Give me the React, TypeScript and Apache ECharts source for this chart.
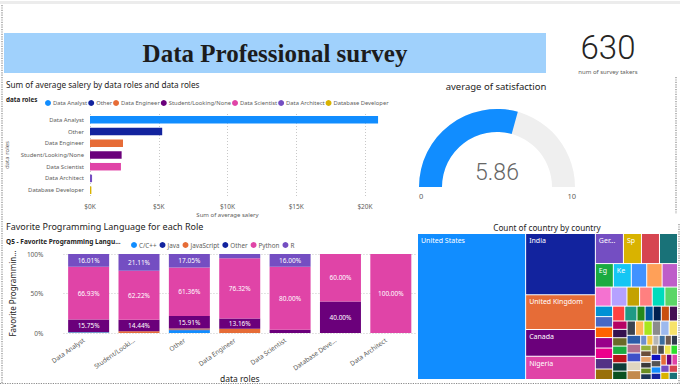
import React, { useEffect, useRef } from 'react';
import * as echarts from 'echarts';

// ---------- data ----------
const surveyCount = 630;
const satisfaction = 5.86;
const gaugeMin = 0;
const gaugeMax = 10;

const roleNames = ['Data Analyst', 'Other', 'Data Engineer', 'Student/Looking/None', 'Data Scientist', 'Data Architect', 'Database Developer'];
const avgSalary = [20950, 5250, 2400, 2300, 2250, 150, 100];

const langRoles = ['Data Analyst', 'Student/Looking/None', 'Other', 'Data Engineer', 'Data Scientist', 'Database Developer', 'Data Architect'];
const langRoleLabels = ['Data Analyst', 'Student/Looki...', 'Other', 'Data Engineer', 'Data Scientist', 'Database Deve...', 'Data Architect'];
const languages = ['C/C++', 'Java', 'JavaScript', 'Other', 'Python', 'R'];
const cppShare = [1.05, 0, 3.41, 0, 0, 0, 0];
const javaShare = [0, 0, 1.14, 0, 0, 0, 0];
const jsShare = [0.26, 2.23, 1.14, 5.26, 0, 0, 0];
const otherShare = [15.75, 14.44, 15.91, 13.16, 4.0, 40.0, 0];
const pythonShare = [66.93, 62.22, 61.36, 76.32, 80.0, 60.0, 100.0];
const rShare = [16.01, 21.11, 17.05, 5.26, 16.0, 0, 0];
const langShares = [cppShare, javaShare, jsShare, otherShare, pythonShare, rShare];

// countries, already ordered from most to fewest respondents
const countryNames = [
  'United States', 'India', 'United Kingdom', 'Canada', 'Nigeria',
  'Germany', 'Spain', 'France', 'Brazil',
  'Egypt', 'Kenya', 'Australia', 'Netherlands', 'South Africa',
  'Pakistan', 'Portugal', 'Mexico', 'Italy', 'Argentina', 'Philippines',
  'Indonesia', 'Colombia', 'Ireland', 'Poland', 'Turkey', 'Ghana', 'Singapore', 'Malaysia', 'Belgium',
  'Sweden', 'Switzerland', 'Chile', 'Peru', 'Japan', 'China', 'Vietnam', 'Bangladesh', 'Sri Lanka', 'Nepal',
  'Romania', 'Greece', 'Austria', 'Denmark', 'Norway', 'Finland', 'Israel', 'United Arab Emirates', 'Saudi Arabia',
  'Morocco', 'Ethiopia', 'Uganda', 'Tanzania',
  'Zimbabwe', 'Zambia', 'Cameroon', 'Tunisia', 'Algeria', 'Jordan', 'Lebanon', 'Qatar', 'Kuwait', 'Oman',
  'Iran', 'Iraq', 'Ukraine', 'Russia', 'Czech Republic', 'Hungary', 'Serbia', 'Croatia', 'Bulgaria', 'Estonia',
  'Latvia', 'Lithuania', 'New Zealand', 'South Korea', 'Thailand', 'Venezuela', 'Ecuador'
];
const countryCounts = [
  262, 71, 40, 31, 27,
  14, 9, 9, 9,
  7, 7, 6, 6, 6,
  5, 5, 4, 4, 4, 4,
  3, 3, 3, 3, 3, 3, 3, 3, 3,
  2, 2, 2, 2, 2, 2, 2, 2, 2, 2,
  2, 2, 2, 2, 2, 2, 2, 2, 2,
  2, 2, 2, 2,
  1, 1, 1, 1, 1, 1, 1, 1, 1, 1,
  1, 1, 1, 1, 1, 1, 1, 1, 1, 1,
  1, 1, 1, 1, 1, 1, 1
];
const labeledCountries = ['United States', 'India', 'United Kingdom', 'Canada', 'Nigeria', 'Germany', 'Spain', 'Egypt', 'Kenya'];

// ---------- styles ----------
const palette = [
  '#118DFF', '#12239E', '#E66C37', '#6B007B', '#E044A7', '#744EC2', '#D9B300', '#D64550', '#197278', '#1AAB40',
  '#15C6F4', '#4092FF', '#FFA058', '#BE5DC9', '#F472D0', '#B5A1FF', '#C4A200', '#FF8080', '#00DBBC', '#5BD667',
  '#0091D5', '#4668C5', '#FF6300', '#99008A', '#EC008C', '#533285', '#99700A', '#FF4141', '#1F9A85', '#25891C',
  '#0057A2', '#002050', '#C94F0F', '#450F54', '#B60064', '#34124F', '#6A6A28', '#1AAB40', '#BA141A', '#0C3D37',
  '#0B511F', '#3B4350', '#FFB55A', '#A8E61D', '#8C8C8C', '#9DB9EE', '#F7E36B', '#2A5CA8', '#B07090', '#3F51C8',
  '#E0D6C0', '#C38A4D', '#6F8FD0', '#F5C542', '#B5B5B5', '#3C6E9E', '#6E5A4E', '#2F3B4C', '#96B33B', '#6A4E3A',
  '#E6A36B', '#3B3B3B', '#6B8E23', '#1D3557', '#A48A5C', '#4B4B4B', '#F2E550', '#2DE02D', '#1010C0', '#555555'
];
const roleColors = ['#118DFF', '#12239E', '#E66C37', '#6B007B', '#E044A7', '#744EC2', '#D9B300'];
const langColors = ['#118DFF', '#12239E', '#E66C37', '#6B007B', '#E044A7', '#744EC2'];
const FONT = "'Segoe UI', 'Noto Sans', sans-serif";
const TITLE = '#252423';
const LABEL = '#605E5C';

export default function App() {
  const ref = useRef<HTMLDivElement>(null);

  useEffect(() => {
    if (!ref.current) return;
    const chart = echarts.init(ref.current, null, { renderer: 'svg' });

    const salarySeries = roleNames.map((r, i) => ({
      name: r,
      type: 'bar',
      xAxisIndex: 0,
      yAxisIndex: 0,
      stack: 'salary',
      barWidth: 7.5,
      clip: false,
      itemStyle: { color: roleColors[i] },
      data: roleNames.map((_, j) => (j === i ? avgSalary[i] : '-')),
    }));

    const langSeries = languages.map((l, i) => ({
      name: l,
      type: 'bar',
      xAxisIndex: 1,
      yAxisIndex: 1,
      stack: 'lang',
      barWidth: 41,
      itemStyle: { color: langColors[i] },
      label: {
        show: true,
        position: 'inside',
        color: '#fff',
        fontSize: 6.5,
        fontFamily: FONT,
        formatter: (p: any) => (p.value >= 10 ? Number(p.value).toFixed(2) + '%' : ''),
      },
      data: langShares[i],
    }));

    const treeData = countryNames.map((n, i) => ({
      name: n,
      value: countryCounts[i],
      itemStyle: { color: palette[i % palette.length] },
    }));

    const dotted = (x1: number, y1: number, x2: number, y2: number) => ({
      type: 'line',
      shape: { x1, y1, x2, y2 },
      style: { stroke: '#8a8a8a', lineWidth: 1.2, lineDash: [1.2, 1.2] },
      silent: true,
    });
    const txt = (text: string, x: number, y: number, font: string, fill: string, align = 'left') => ({
      type: 'text',
      x,
      y,
      silent: true,
      style: { text, font, fill, textAlign: align, verticalAlign: 'middle' },
    });

    const legendBase = {
      icon: 'circle',
      itemWidth: 6,
      itemHeight: 6,
      itemGap: 1,
      selectedMode: false,
      textStyle: { fontSize: 5.8, color: LABEL, fontFamily: FONT, padding: [0, 0, 0, -3] },
    };

    const option: any = {
      animation: false,
      backgroundColor: '#ffffff',
      textStyle: { fontFamily: FONT },
      graphic: [
        { type: 'rect', shape: { x: 0, y: 1, width: 680, height: 3 }, style: { fill: '#ececec' }, silent: true },
        dotted(2, 5, 2, 384),
        dotted(0, 383.5, 680, 383.5),
        dotted(676, 77, 676, 214),
        dotted(679, 224, 679, 384),
        { type: 'rect', shape: { x: 4, y: 33, width: 542, height: 40 }, style: { fill: '#A0D1FC' }, silent: true },
        txt('Data Professional survey', 275, 53, "bold 25px 'Liberation Serif', 'Times New Roman', serif", '#1c1c1c', 'center'),
        txt(String(surveyCount), 608, 47, "300 33px Roboto, 'Noto Sans', sans-serif", TITLE, 'center'),
        txt('num of survey takers', 608, 71.5, `6px ${FONT}`, LABEL, 'center'),
        txt('Sum of average salery by data roles and data roles', 6, 84, `8.2px ${FONT}`, TITLE),
        txt('data roles', 6, 99, `bold 6.3px ${FONT}`, TITLE),
        txt('average of satisfaction', 496, 86, `9.5px ${FONT}`, TITLE, 'center'),
        txt(String(gaugeMin), 419, 196, `7.5px ${FONT}`, LABEL),
        txt(String(gaugeMax), 576, 196, `7.5px ${FONT}`, LABEL, 'right'),
        txt('Favorite Programming Language for each Role', 6, 226, `9px ${FONT}`, TITLE),
        txt('Q5 - Favorite Programming Langu...', 6, 241, `bold 6.5px ${FONT}`, TITLE),
        txt('Count of country by country', 547, 227, `8.2px ${FONT}`, TITLE, 'center'),
      ],
      legend: [
        { ...legendBase, data: roleNames, left: 40, top: 95 },
        {
          ...legendBase,
          data: languages,
          left: 126,
          top: 237,
          itemGap: 3,
          textStyle: { ...legendBase.textStyle, fontSize: 6.3 },
        },
      ],
      grid: [
        { left: 90, top: 114, width: 275, height: 82 },
        { left: 52, top: 254, width: 364, height: 79 },
      ],
      xAxis: [
        {
          type: 'value',
          gridIndex: 0,
          min: 0,
          max: 20000,
          interval: 5000,
          name: 'Sum of average salery',
          nameLocation: 'middle',
          nameGap: 16,
          nameTextStyle: { fontSize: 6, color: LABEL },
          axisLine: { show: false },
          axisTick: { show: false },
          axisLabel: { fontSize: 6.5, color: LABEL, margin: 7, formatter: (v: number) => '$' + v / 1000 + 'K' },
          splitLine: { lineStyle: { type: [1, 2], color: '#C8C8C8' } },
        },
        {
          type: 'category',
          gridIndex: 1,
          data: langRoles,
          name: 'data roles',
          nameLocation: 'middle',
          nameGap: 38,
          nameTextStyle: { fontSize: 8.5, color: TITLE },
          axisLine: { show: false },
          axisTick: { show: false },
          axisLabel: {
            fontSize: 6.5,
            color: LABEL,
            rotate: 35,
            margin: 3,
            padding: [0, 6, 0, 0],
            interval: 0,
            formatter: (_v: string, i: number) => langRoleLabels[i],
          },
        },
      ],
      yAxis: [
        {
          type: 'category',
          gridIndex: 0,
          inverse: true,
          data: roleNames,
          name: 'data roles',
          nameLocation: 'middle',
          nameGap: 80,
          nameTextStyle: { fontSize: 6, color: LABEL },
          axisLine: { show: false },
          axisTick: { show: false },
          axisLabel: { fontSize: 5.9, color: LABEL, margin: 6 },
        },
        {
          type: 'value',
          gridIndex: 1,
          min: 0,
          max: 100,
          interval: 50,
          name: 'Favorite Programmin...',
          nameLocation: 'middle',
          nameGap: 39,
          nameTextStyle: { fontSize: 8, color: TITLE },
          axisLine: { show: false },
          axisTick: { show: false },
          axisLabel: { fontSize: 6.5, color: LABEL, margin: 20, formatter: '{value}%' },
          splitLine: { lineStyle: { type: [1, 2], color: '#C8C8C8' } },
        },
      ],
      series: [
        ...salarySeries,
        ...langSeries,
        {
          type: 'gauge',
          center: [497, 187],
          radius: 78,
          startAngle: 180,
          endAngle: 0,
          min: gaugeMin,
          max: gaugeMax,
          splitNumber: 1,
          axisLine: { lineStyle: { width: 23, color: [[1, '#EFEFEF']] } },
          progress: { show: true, width: 23, itemStyle: { color: '#118DFF' } },
          pointer: { show: false },
          anchor: { show: false },
          axisTick: { show: false },
          splitLine: { show: false },
          axisLabel: { show: false },
          title: { show: false },
          detail: {
            formatter: (v: number) => v.toFixed(2),
            fontSize: 23,
            fontWeight: 300,
            fontFamily: "Roboto, 'Noto Sans', sans-serif",
            color: '#666666',
            offsetCenter: [0, -15],
          },
          data: [{ value: satisfaction }],
        },
        {
          type: 'treemap',
          left: 418,
          top: 234,
          width: 259,
          height: 145,
          roam: false,
          nodeClick: false,
          breadcrumb: { show: false },
          sort: false,
          label: {
            show: true,
            position: 'insideTopLeft',
            color: '#fff',
            fontSize: 7,
            padding: [3, 2, 3, 3],
            fontFamily: FONT,
            overflow: 'truncate',
            ellipsis: '...',
            formatter: (p: any) => (labeledCountries.includes(p.name) ? p.name : ''),
          },
          upperLabel: { show: false },
          itemStyle: { borderWidth: 0, gapWidth: 1, borderColor: '#fff' },
          levels: [{ itemStyle: { borderWidth: 0, gapWidth: 1 } }],
          data: treeData,
        },
      ],
    };

    chart.setOption(option);
    return () => chart.dispose();
  }, []);

  return <div ref={ref} style={{ position: 'absolute', left: 0, top: 0, width: 680, height: 385 }} />;
}
